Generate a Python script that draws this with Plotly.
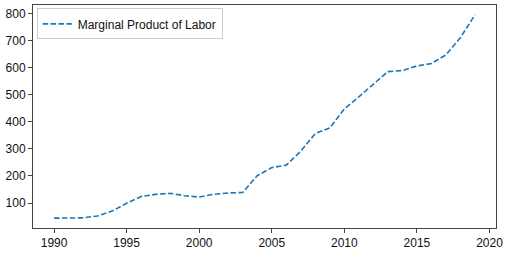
import plotly.graph_objects as go

years = list(range(1990, 2020))
mpl_values = [44, 44, 45, 52, 70, 99, 124, 132, 136, 127, 122, 132, 137, 139,
              201, 231, 240, 292, 357, 378, 448, 493, 538, 586, 590, 607, 616, 648, 712, 796]
series_name = "Marginal Product of Labor"
x_ticks = [1990, 1995, 2000, 2005, 2010, 2015, 2020]
y_ticks = [100, 200, 300, 400, 500, 600, 700, 800]

fig = go.Figure()
fig.add_trace(go.Scatter(
    x=years, y=mpl_values, mode="lines", name=series_name,
    line=dict(color="#1f77b4", width=1.6, dash="5.5px,2.4px"),
))

axis_common = dict(
    showgrid=False, zeroline=False, showline=True, linecolor="#444", linewidth=1,
    mirror=True, ticks="outside", ticklen=4, tickcolor="#444", tickwidth=1,
    tickfont=dict(family="Liberation Sans, Arial, sans-serif", size=12, color="#111"),
)
fig.update_layout(
    width=507, height=254,
    margin=dict(l=33, r=8, t=4, b=23),
    paper_bgcolor="white", plot_bgcolor="white",
    xaxis=dict(range=[1988.55, 2020.45], tickvals=x_ticks, **axis_common),
    yaxis=dict(range=[7.5, 832.5], tickvals=y_ticks, **axis_common),
    showlegend=True,
    legend=dict(x=0.008, y=0.985, xanchor="left", yanchor="top",
                bgcolor="rgba(255,255,255,0.8)", bordercolor="#ccc", borderwidth=1,
                font=dict(family="Liberation Sans, Arial, sans-serif", size=12, color="#111"),
                itemwidth=30, tracegroupgap=0),
)
fig.write_html("out.html", config={"displayModeBar": False},
               post_script="document.body.style.margin='0';")
